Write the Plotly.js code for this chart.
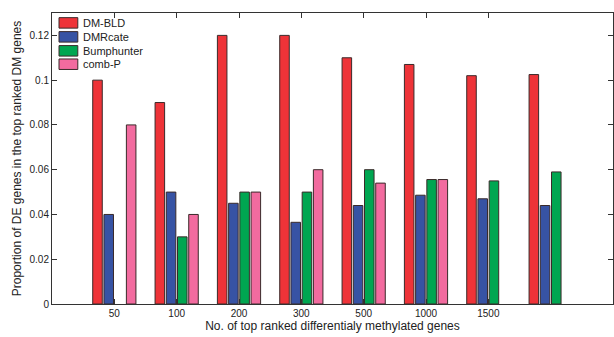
<!DOCTYPE html>
<html>
<head>
<meta charset="utf-8">
<script src="https://cdn.plot.ly/plotly-3.0.1.min.js"></script>
<style>html,body{margin:0;padding:0;background:#fff;}#chart{width:614px;height:337px;}</style>
</head>
<body>
<div id="chart"></div>
<script>
const categories = ['50', '100', '200', '300', '500', '1000', '1500', ''];
const seriesNames = ['DM-BLD', 'DMRcate', 'Bumphunter', 'comb-P'];
const dmBld = [0.100, 0.090, 0.120, 0.120, 0.110, 0.107, 0.102, 0.1025];
const dmrcate = [0.040, 0.050, 0.045, 0.0365, 0.044, 0.0486, 0.047, 0.044];
const bumphunter = [0, 0.030, 0.050, 0.050, 0.060, 0.0556, 0.055, 0.059];
const combP = [0.080, 0.040, 0.050, 0.060, 0.054, 0.0556, 0, 0];
const colors = ['#EE3338', '#3753A4', '#00A651', '#F26B9F'];
const yTicks = [0, 0.02, 0.04, 0.06, 0.08, 0.1, 0.12];

const xPos = categories.map((c, i) => i + 1);
const allSeries = [dmBld, dmrcate, bumphunter, combP];
const traces = allSeries.map((vals, k) => ({
  type: 'bar', name: seriesNames[k], x: xPos, y: vals,
  marker: {color: colors[k], line: {color: '#3a2a2a', width: vals.map(v => v > 0 ? 1 : 0)}},
  showlegend: false, hoverinfo: 'skip'
}));

const font = {family: 'Liberation Sans, Arial, Helvetica, sans-serif', color: '#222'};
const shapes = [];
const annotations = [];
const legY = [0.966, 0.918, 0.870, 0.824];
seriesNames.forEach((n, k) => {
  shapes.push({type: 'rect', xref: 'paper', yref: 'paper',
    x0: 0.0125, x1: 0.046, y0: legY[k] - 0.018, y1: legY[k] + 0.018,
    fillcolor: colors[k], line: {color: '#3a2a2a', width: 1}});
  annotations.push({xref: 'paper', yref: 'paper', x: 0.051, y: legY[k],
    xanchor: 'left', yanchor: 'middle', text: n, showarrow: false,
    font: Object.assign({}, font, {size: 11})});
});

const layout = {
  width: 614, height: 337,
  margin: {l: 52, r: 1, t: 13, b: 33},
  paper_bgcolor: '#fff', plot_bgcolor: '#fff',
  barmode: 'group', bargap: 0.28, bargroupgap: 0.15,
  font: font,
  xaxis: {
    range: [0, 9], tickmode: 'array', tickvals: xPos.slice(0, 7), ticktext: categories.slice(0, 7),
    ticks: 'inside', ticklen: 5, tickcolor: '#333', showline: true, linecolor: '#333', linewidth: 1,
    mirror: 'allticks', showgrid: false, zeroline: false, tickfont: {size: 10},
    title: {text: 'No. of top ranked differentialy methylated genes', font: {size: 12}, standoff: 3}
  },
  yaxis: {
    range: [0, 0.13], tickmode: 'array', tickvals: yTicks, ticktext: yTicks.map(String),
    ticks: 'inside', ticklen: 5, tickcolor: '#333', showline: true, linecolor: '#333', linewidth: 1,
    mirror: 'allticks', showgrid: false, zeroline: false, tickfont: {size: 10},
    title: {text: 'Proportion of DE genes in the top ranked DM genes', font: {size: 12}, standoff: 5}
  },
  shapes: shapes, annotations: annotations
};
Plotly.newPlot('chart', traces, layout, {displayModeBar: false, staticPlot: true});
</script>
</body>
</html>
